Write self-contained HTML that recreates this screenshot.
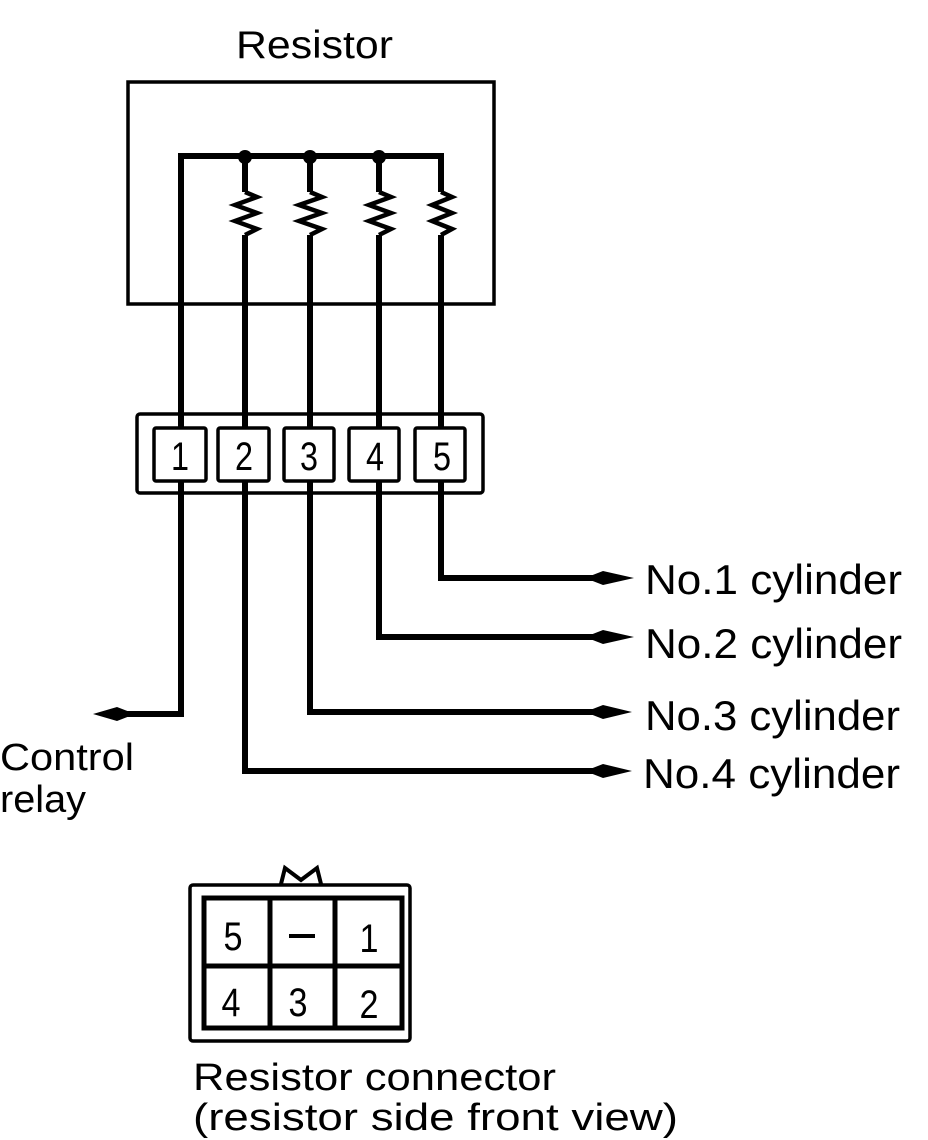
<!DOCTYPE html>
<html><head><style>body{margin:0;background:#fff}svg{display:block}</style></head><body>
<svg width="928" height="1140" viewBox="0 0 928 1140" xmlns="http://www.w3.org/2000/svg" font-family="Liberation Sans, sans-serif">
<rect width="928" height="1140" fill="#fff"/>
<text x="236" y="58" font-size="39" textLength="157" lengthAdjust="spacingAndGlyphs">Resistor</text>
<rect x="128" y="82" width="366" height="222" fill="none" stroke="#000" stroke-width="3.5"/>
<g stroke="#000" stroke-width="6" fill="none" stroke-linejoin="miter">
<polyline points="181,414 181,156 441,156 441,192"/>
<line x1="245" y1="156" x2="245" y2="192"/>
<line x1="310" y1="156" x2="310" y2="192"/>
<line x1="379" y1="156" x2="379" y2="192"/>
</g>
<g fill="#000"><circle cx="245" cy="157" r="7"/><circle cx="310" cy="157" r="7"/><circle cx="379" cy="157" r="7"/></g>
<g stroke="#000" stroke-width="4.5" fill="none">
<polyline points="245,192 257,197 235,205 257,213 235,221 257,229 245,235"/>
<polyline points="310,192 322,197 299,205 322,213 299,221 322,229 310,235"/>
<polyline points="379,192 391,197 369,205 391,213 369,221 391,229 379,235"/>
<polyline points="441,192 452,197 432,205 452,213 432,221 452,229 441,235"/>
</g>
<g stroke="#000" stroke-width="6" fill="none">
<line x1="245" y1="235" x2="245" y2="430"/>
<line x1="310" y1="235" x2="310" y2="430"/>
<line x1="379" y1="235" x2="379" y2="430"/>
<line x1="441" y1="235" x2="441" y2="430"/>
</g>
<rect x="137" y="414" width="346" height="79" rx="3" fill="#fff" stroke="#000" stroke-width="3.5"/>
<g stroke="#000" stroke-width="6">
<line x1="181" y1="300" x2="181" y2="430"/><line x1="245" y1="300" x2="245" y2="430"/><line x1="310" y1="300" x2="310" y2="430"/><line x1="379" y1="300" x2="379" y2="430"/><line x1="441" y1="300" x2="441" y2="430"/>
</g>
<g fill="#fff" stroke="#000" stroke-width="3.5">
<rect x="154" y="428" width="52" height="53" rx="2"/>
<rect x="218" y="428" width="51" height="53" rx="2"/>
<rect x="284" y="428" width="50" height="53" rx="2"/>
<rect x="349" y="428" width="50" height="53" rx="2"/>
<rect x="415" y="428" width="50" height="53" rx="2"/>
</g>
<g font-size="40" text-anchor="middle">
<text x="180" y="470" textLength="18" lengthAdjust="spacingAndGlyphs">1</text><text x="244" y="470" textLength="18" lengthAdjust="spacingAndGlyphs">2</text><text x="309" y="470" textLength="18" lengthAdjust="spacingAndGlyphs">3</text><text x="375" y="470" textLength="18" lengthAdjust="spacingAndGlyphs">4</text><text x="442" y="470" textLength="18" lengthAdjust="spacingAndGlyphs">5</text>
</g>
<g stroke="#000" stroke-width="6" fill="none">
<polyline points="441,481 441,578 595,578"/>
<polyline points="379,481 379,637 595,637"/>
<polyline points="310,481 310,712 595,712"/>
<polyline points="245,481 245,771 595,771"/>
<polyline points="181,481 181,714 125,714"/>
</g>
<g fill="#000">
<path d="M585,578 L603,571 L634,578 L603,585 Z"/>
<path d="M585,637 L603,630 L634,637 L603,644 Z"/>
<path d="M585,712 L603,705 L632,712 L603,719 Z"/>
<path d="M585,771 L603,764 L632,771 L603,778 Z"/>
<path d="M135,714 L117,707 L93,714 L117,721 Z"/>
</g>
<g font-size="42">
<text x="645" y="594" textLength="257" lengthAdjust="spacingAndGlyphs">No.1  cylinder</text>
<text x="645" y="658" textLength="257" lengthAdjust="spacingAndGlyphs">No.2  cylinder</text>
<text x="645" y="730" textLength="255" lengthAdjust="spacingAndGlyphs">No.3  cylinder</text>
<text x="643" y="788" textLength="257" lengthAdjust="spacingAndGlyphs">No.4  cylinder</text>
</g>
<g font-size="38">
<text x="0" y="770" textLength="134" lengthAdjust="spacingAndGlyphs">Control</text>
<text x="0" y="812" textLength="86" lengthAdjust="spacingAndGlyphs">relay</text>
</g>
<polyline points="281,884 285,868 301,880 317,868 321,884" fill="none" stroke="#000" stroke-width="4"/>
<rect x="190" y="885" width="220" height="156" rx="3" fill="none" stroke="#000" stroke-width="3.5"/>
<rect x="204" y="898" width="198" height="130" fill="none" stroke="#000" stroke-width="5"/>
<g stroke="#000" stroke-width="5">
<line x1="204" y1="966" x2="402" y2="966"/>
<line x1="270" y1="898" x2="270" y2="1028"/>
<line x1="335" y1="898" x2="335" y2="1028"/>
</g>
<g font-size="40" text-anchor="middle">
<text x="233" y="950" textLength="19" lengthAdjust="spacingAndGlyphs">5</text><text x="369" y="952" textLength="19" lengthAdjust="spacingAndGlyphs">1</text>
<text x="231" y="1016" textLength="19" lengthAdjust="spacingAndGlyphs">4</text><text x="298" y="1016" textLength="19" lengthAdjust="spacingAndGlyphs">3</text><text x="369" y="1018" textLength="19" lengthAdjust="spacingAndGlyphs">2</text>
</g>
<rect x="289" y="934" width="26" height="4" fill="#000"/>
<g font-size="38">
<text x="193" y="1090" textLength="363" lengthAdjust="spacingAndGlyphs">Resistor  connector</text>
<text x="193" y="1130" textLength="485" lengthAdjust="spacingAndGlyphs">(resistor  side  front  view)</text>
</g>
</svg>
</body></html>
